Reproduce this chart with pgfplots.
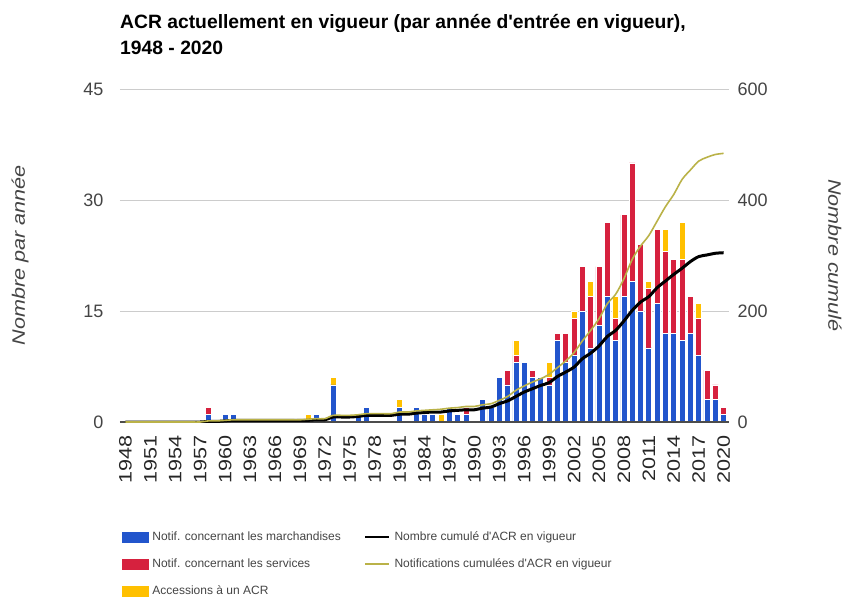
\documentclass[border=0pt]{standalone}
\usepackage{fontspec}
\setmainfont{Liberation Sans}[Ligatures=TeXOff]
\usepackage{pgfplots}
\pgfplotsset{compat=1.18}
\usepackage{pgfplotstable}

\definecolor{goods}{RGB}{34,85,204}
\definecolor{serv}{RGB}{214,33,62}
\definecolor{acc}{RGB}{255,192,0}
\definecolor{cumall}{RGB}{186,178,72}
\definecolor{ticktxt}{RGB}{68,68,68}

% year, goods, services, accessions, cumulative goods, cumulative all
\pgfplotstableread{
year g s a cg ct
1948 0 0 0 0 0
1949 0 0 0 0 0
1950 0 0 0 0 0
1951 0 0 0 0 0
1952 0 0 0 0 0
1953 0 0 0 0 0
1954 0 0 0 0 0
1955 0 0 0 0 0
1956 0 0 0 0 0
1957 0 0 0 0 0
1958 1 1 0 1 2
1959 0 0 0 1 2
1960 1 0 0 2 3
1961 1 0 0 3 4
1962 0 0 0 3 4
1963 0 0 0 3 4
1964 0 0 0 3 4
1965 0 0 0 3 4
1966 0 0 0 3 4
1967 0 0 0 3 4
1968 0 0 0 3 4
1969 0 0 0 3 4
1970 0 0 1 3 5
1971 1 0 0 4 6
1972 0 0 0 4 6
1973 5 0 1 9 12
1974 0 0 0 9 12
1975 0 0 0 9 12
1976 1 0 0 10 13
1977 2 0 0 12 15
1978 0 0 0 12 15
1979 0 0 0 12 15
1980 0 0 0 12 15
1981 2 0 1 14 18
1982 0 0 0 14 18
1983 2 0 0 16 20
1984 1 0 0 17 21
1985 1 0 0 18 22
1986 0 0 1 18 23
1987 2 0 0 20 25
1988 1 0 0 21 26
1989 1 1 0 22 28
1990 0 0 0 22 28
1991 3 0 0 25 31
1992 2 0 0 27 33
1993 6 0 0 33 39
1994 5 2 0 38 46
1995 8 1 2 46 57
1996 8 0 0 54 65
1997 6 1 0 60 72
1998 6 0 0 66 78
1999 5 1 2 71 86
2000 11 1 0 82 98
2001 8 4 0 90 110
2002 9 5 1 99 125
2003 15 6 0 114 146
2004 10 7 2 124 165
2005 13 8 0 137 186
2006 17 10 0 154 213
2007 11 3 3 165 230
2008 17 11 0 182 258
2009 19 16 0 201 293
2010 15 9 0 216 317
2011 10 8 1 226 336
2012 16 10 0 242 362
2013 12 11 3 254 388
2014 12 10 0 266 410
2015 11 11 5 277 437
2016 12 5 0 289 454
2017 9 5 2 298 470
2018 3 4 0 301 477
2019 3 2 0 304 482
2020 1 1 0 305 484
}\acr

\begin{document}
\begin{tikzpicture}
\path[use as bounding box] (-120pt,-177pt) rectangle (723pt,422pt);

\begin{axis}[
    scale only axis,
    width=609pt, height=333pt,
    xmin=1947.35, xmax=2020.65,
    ymin=0, ymax=45,
    ybar stacked,
    bar width=6pt,
    axis line style={draw=none},
    major tick length=0pt,
    ytick={0,15,30,45},
    ymajorgrids,
    grid style={draw=black!20, line width=0.8pt},
    xtick={1948,1951,...,2020},
    /pgf/number format/assume math mode=true,
    /pgf/number format/1000 sep={},
    xticklabel style={rotate=90, anchor=east, xscale=1.2, inner xsep=11pt, font=\fontsize{18}{18}\selectfont, text=black!85},
    yticklabel style={font=\fontsize{18}{18}\selectfont, text=ticktxt, xshift=-13pt},
    ylabel={Nombre par année},
    ylabel style={at={(axis description cs:-0.164,0.5)}, anchor=center, xscale=1.2, font=\itshape\fontsize{18}{18}\selectfont, text=ticktxt},
]
\addplot[fill=goods, draw=white, line width=0.7pt] table[x=year, y=g] {\acr};
\addplot[fill=serv, draw=white, line width=0.7pt] table[x=year, y=s] {\acr};
\addplot[fill=acc, draw=white, line width=0.7pt] table[x=year, y=a] {\acr};
\end{axis}

\begin{axis}[
    scale only axis,
    width=609pt, height=333pt,
    xmin=1947.35, xmax=2020.65,
    ymin=0, ymax=600,
    axis y line*=right,
    axis x line*=bottom,
    y axis line style={draw=none},
    x axis line style={draw=black!70, line width=1.2pt, -},
    xtick=\empty,
    ytick={0,200,400,600},
    major tick length=0pt,
    /pgf/number format/assume math mode=true,
    yticklabel style={font=\fontsize{18}{18}\selectfont, text=ticktxt, xshift=5pt},
    ylabel={Nombre cumulé},
    ylabel style={at={(axis description cs:1.174,0.5)}, anchor=center, rotate=180, xscale=1.2, font=\itshape\fontsize{18}{18}\selectfont, text=ticktxt},
    legend columns=2,
    legend cell align=left,
    legend style={draw=none, fill=none, at={(0,0)}, anchor=north west,
        xshift=2pt, yshift=-109pt, inner sep=0pt, outer sep=0pt,
        font=\fontsize{12}{14}\selectfont, text=ticktxt, row sep=14.5pt,
        nodes={inner sep=1pt},
        /tikz/every odd column/.append style={column sep=3pt},
        /tikz/every even column/.append style={column sep=22pt}},
]
\addlegendimage{legend image code/.code={\fill[goods] (0pt,-5pt) rectangle (26pt,5pt);}}
\addplot[black, line width=3pt, smooth,
    legend image code/.code={\draw[black, line width=2.6pt] (0pt,0pt) -- (24pt,0pt);}]
    table[x=year, y=cg] {\acr};
\addlegendimage{legend image code/.code={\fill[serv] (0pt,-5pt) rectangle (26pt,5pt);}}
\addplot[cumall, line width=1.6pt, smooth,
    legend image code/.code={\draw[cumall, line width=2.6pt] (0pt,0pt) -- (24pt,0pt);}]
    table[x=year, y=ct] {\acr};
\addlegendimage{legend image code/.code={\fill[acc] (0pt,-5pt) rectangle (26pt,5pt);}}
\legend{Notif. concernant les marchandises, Nombre cumulé d'ACR en vigueur,
    Notif. concernant les services, Notifications cumulées d'ACR en vigueur,
    Accessions à un ACR}
\end{axis}

\node[anchor=base west, inner sep=0pt, font=\bfseries\fontsize{19.3}{19.3}\selectfont] at (0pt,393pt)
    {ACR actuellement en vigueur (par année d'entrée en vigueur),};
\node[anchor=base west, inner sep=0pt, font=\bfseries\fontsize{19.3}{19.3}\selectfont] at (0pt,367pt)
    {1948 - 2020};
\end{tikzpicture}
\end{document}
